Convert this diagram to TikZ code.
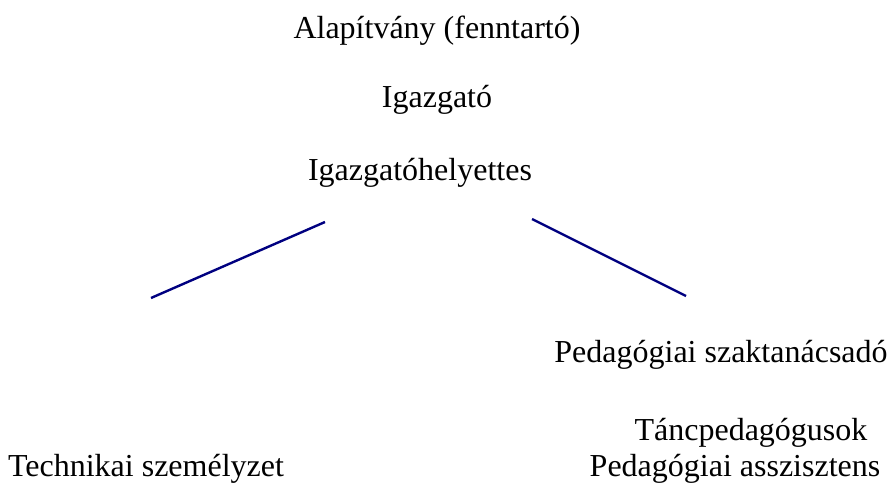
\documentclass[tikz,border=0pt]{standalone}
\usepackage{fontspec}
\setmainfont{Liberation Serif}
\usepackage{tikz}

\definecolor{linkblue}{RGB}{0,0,128}

\begin{document}
\begin{tikzpicture}[x=1pt,y=-1pt]
  \tikzset{
    unit/.style={inner sep=0pt,font=\fontsize{32}{36}\selectfont},
    link/.style={linkblue,line width=2.4pt}
  }
  \useasboundingbox
    (0,0)
    rectangle
    (893,484);
  \node[unit] (alap) at (437,31) {Alapítvány (fenntartó)};
  \node[unit] (igaz) at (437,100) {Igazgató};
  \node[unit] (helyettes) at (420,173) {Igazgatóhelyettes};
  \node[unit] (szak) at (721,355) {Pedagógiai szaktanácsadó};
  \node[unit] (tanc) at (751,433) {Táncpedagógusok};
  \node[unit] (asszisztens) at (735,469) {Pedagógiai asszisztens};
  \node[unit] (technikai) at (146,469) {Technikai személyzet};
  \coordinate (l1a) at (325,222);
  \coordinate (l1b) at (151,298);
  \coordinate (l2a) at (532,219);
  \coordinate (l2b) at (686,296);
  \draw[link]
    (l1a)
    --
    (l1b);
  \draw[link]
    (l2a)
    --
    (l2b);
\end{tikzpicture}
\end{document}
